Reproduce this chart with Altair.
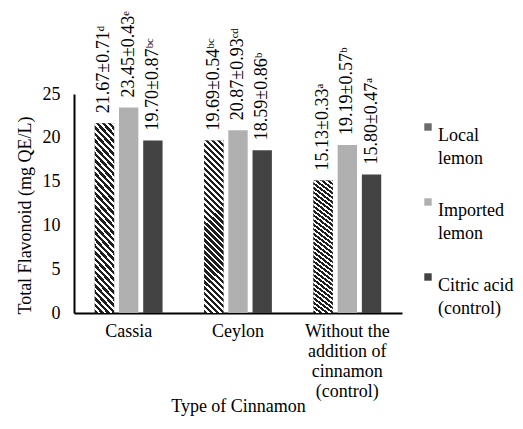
import altair as alt
import pandas as pd

categories = ["Cassia", "Ceylon", "Without the addition of cinnamon (control)"]
series = ["Local lemon", "Imported lemon", "Citric acid (control)"]

local_vals = [21.67, 19.69, 15.13]
imported_vals = [23.45, 20.87, 19.19]
citric_vals = [19.70, 18.59, 15.80]

local_sd = [0.71, 0.54, 0.33]
imported_sd = [0.43, 0.93, 0.57]
citric_sd = [0.87, 0.86, 0.47]

local_sig = ["d", "bc", "a"]
imported_sig = ["e", "cd", "b"]
citric_sig = ["bc", "b", "a"]

y_ticks = [0, 5, 10, 15, 20, 25]

SUP = {"a": "\u1d43", "b": "\u1d47", "c": "\u1d9c", "d": "\u1d48", "e": "\u1d49"}

rows = []
for s, vals, sds, sigs in zip(series,
                              [local_vals, imported_vals, citric_vals],
                              [local_sd, imported_sd, citric_sd],
                              [local_sig, imported_sig, citric_sig]):
    for c, v, sd, sg in zip(categories, vals, sds, sigs):
        rows.append({
            "category": c,
            "series": s,
            "value": v,
            "label": f"{v:.2f}\u00b1{sd:.2f}" + "".join(SUP[ch] for ch in sg),
        })
df = pd.DataFrame(rows)

FONT = "'Liberation Serif', 'Times New Roman', 'DejaVu Serif', serif"
FS = 18

# diagonal stripe gradient for "Local lemon"
k = 9.0
period = 0.0038
stops = []
t = 0.0
dark, light = "#1e1e1e", "#ffffff"
while t < 0.16:
    stops.append(alt.GradientStop(color=dark, offset=round(t, 5)))
    stops.append(alt.GradientStop(color=dark, offset=round(t + period * 0.55, 5)))
    stops.append(alt.GradientStop(color=light, offset=round(t + period * 0.55, 5)))
    stops.append(alt.GradientStop(color=light, offset=round(t + period, 5)))
    t += period
stripe = alt.LinearGradient(gradient="linear", stops=stops, x1=0, y1=1, x2=1, y2=1 - k)

x_enc = alt.X(
    "category:N",
    sort=categories,
    scale=alt.Scale(paddingInner=0.38, paddingOuter=0.19),
    title="Type of Cinnamon",
    axis=alt.Axis(
        labelAngle=0,
        ticks=False,
        domainColor="black",
        domainWidth=2,
        labelPadding=9,
        labelLineHeight=20,
        labelExpr="datum.label == 'Without the addition of cinnamon (control)' ? "
                  "['Without the', 'addition of', 'cinnamon', '(control)'] : datum.label",
        titlePadding=-3,
    ),
)
xo_enc = alt.XOffset("series:N", sort=series,
                     scale=alt.Scale(paddingInner=0.2, paddingOuter=0))
y_enc = alt.Y(
    "value:Q",
    scale=alt.Scale(domain=[0, 25]),
    title="Total Flavonoid  (mg QE/L)",
    axis=alt.Axis(
        values=y_ticks,
        ticks=False,
        grid=False,
        domainColor="black",
        domainWidth=2,
        labelPadding=14,
        titlePadding=8,
        titleY=121,
    ),
)

base = alt.Chart(df)

bars = base.mark_bar().encode(
    x=x_enc,
    xOffset=xo_enc,
    y=y_enc,
    color=alt.Color(
        "series:N",
        sort=series,
        scale=alt.Scale(domain=series, range=["#6a6a6a", "#b0b0b0", "#434343"]),
        legend=alt.Legend(
            title=None,
            orient="none",
            legendX=345,
            legendY=24,
            labelExpr="datum.label == 'Citric acid (control)' ? ['Citric acid', '(control)'] : split(datum.label, ' ')",
            labelFontSize=FS,
            labelFont=FONT,
            labelColor="black",
            labelLimit=0,
            symbolType="square",
            symbolSize=55,
            symbolStrokeWidth=0,
            rowPadding=25,
            labelBaseline="top",
            labelOffset=1,
        ),
    ),
)

stripes = base.mark_bar(color=stripe).encode(
    x=x_enc, xOffset=xo_enc, y=y_enc
).transform_filter(alt.datum.series == series[0])

labels = base.mark_text(
    angle=270, align="left", baseline="middle", dx=10,
    font=FONT, fontSize=FS, color="black",
).encode(x=x_enc, xOffset=xo_enc, y=y_enc, text="label:N")

chart = alt.layer(bars, stripes, labels).properties(
    width=328,
    height=219,
    autosize=alt.AutoSizeParams(type="none"),
    padding={"left": 66, "top": 86, "right": 113, "bottom": 108},
).configure(
    font=FONT, background="white",
    style={"guide-label": {"lineHeight": 23}},
).configure_view(
    stroke=None
).configure_axis(
    labelFont=FONT,
    titleFont=FONT,
    labelFontSize=FS,
    titleFontSize=FS,
    labelColor="black",
    titleColor="black",
    titleFontWeight="normal",
).configure_legend(
    labelFont=FONT,
    labelFontSize=FS,
)

chart.save("out.html", embed_options={"renderer": "svg", "actions": False})
